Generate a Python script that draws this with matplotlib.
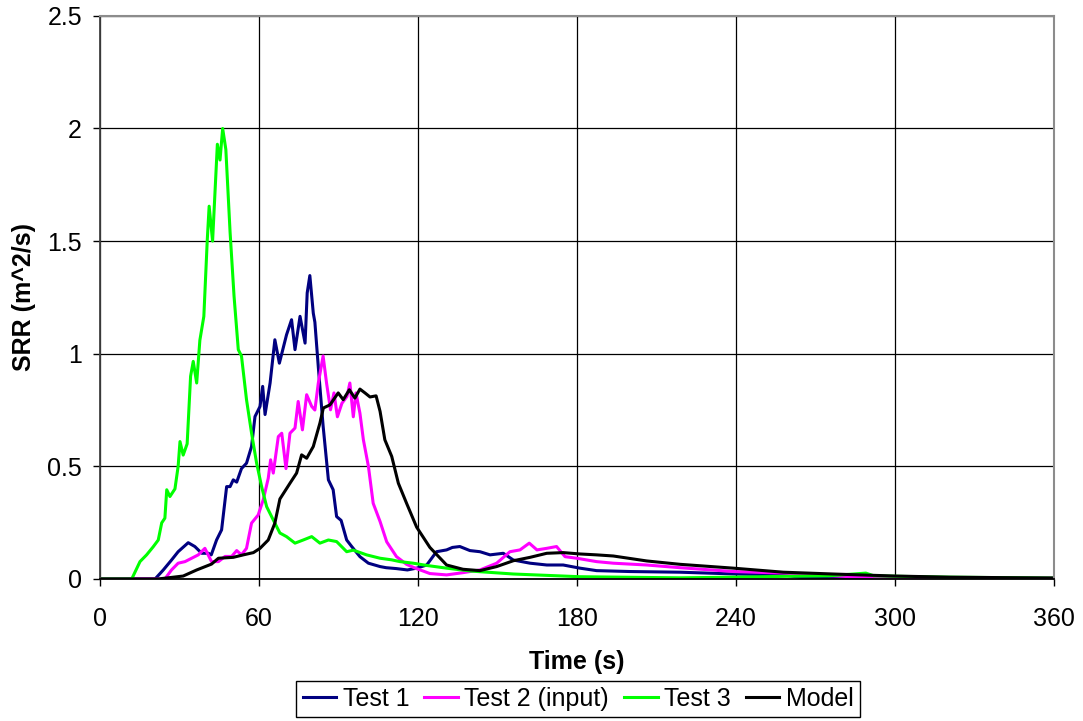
# SRR curves for the three tests and the model
import matplotlib.pyplot as plt

plt.rcParams['font.family'] = ['Liberation Sans', 'DejaVu Sans']
plt.rcParams['font.size'] = 18

# Test 1
t1 = [0, 20.8, 23.9, 27, 29.5, 33.3, 35.8, 38.4, 40.9, 42, 44, 45.9, 47.8, 49.1, 50.3, 51.6,
      53.4, 55.3, 57.2, 58.5, 60.4, 61.4, 62.3, 64.2, 66, 67.7, 70.4, 72.3, 73.6, 75.5, 77.4,
      78.2, 79.2, 80.5, 81.1, 82.4, 84.2, 86.2, 88, 89.3, 91, 93.1, 95, 98.1, 101.3, 105.7,
      108, 111.9, 116, 119.5, 123.3, 127, 130.8, 133, 135.8, 139.6, 143.4, 147.2, 152.2, 156,
      162.3, 168.6, 174.8, 181.1, 187.4, 200, 218.9, 240, 257.8, 265, 280, 300, 330, 360]
srr1 = [0, 0, 0.04, 0.084, 0.121, 0.161, 0.144, 0.114, 0.114, 0.107, 0.173, 0.218, 0.41, 0.41,
        0.44, 0.43, 0.49, 0.514, 0.588, 0.721, 0.766, 0.855, 0.73, 0.87, 1.062, 0.958, 1.084,
        1.151, 1.018, 1.166, 1.047, 1.27, 1.347, 1.18, 1.14, 0.94, 0.68, 0.44, 0.396, 0.277,
        0.26, 0.173, 0.144, 0.099, 0.07, 0.055, 0.05, 0.046, 0.04, 0.048, 0.062, 0.121, 0.129,
        0.14, 0.144, 0.126, 0.121, 0.107, 0.114, 0.084, 0.07, 0.062, 0.062, 0.048, 0.037,
        0.033, 0.03, 0.022, 0.018, 0.006, 0.004, 0.003, 0.003, 0.003]

# Test 2 (input)
t2 = [0, 24.5, 27, 29.5, 32.1, 34.6, 37.1, 39.6, 42.1, 44.7, 47.2, 49.7, 51.6, 53.4, 55.3,
      57.2, 59.7, 61.6, 63.5, 64.4, 65.4, 67.3, 68.6, 70.2, 71.7, 73.6, 74.8, 76.4, 78, 79.9,
      81.1, 82.4, 84.2, 85.5, 87, 88.3, 89.6, 91.3, 93.2, 94.3, 95.6, 96.6, 98.1, 99.4, 101.3,
      103.1, 105.7, 108.2, 111.9, 115.7, 119, 124.5, 130.8, 137, 143.4, 149.7, 154.7, 158.5,
      162, 164.9, 168.6, 172.3, 175.5, 179.9, 187.4, 193.7, 206.3, 218.9, 239, 257.9, 283,
      302, 330, 360]
srr2 = [0, 0, 0.04, 0.07, 0.077, 0.092, 0.107, 0.136, 0.077, 0.077, 0.10, 0.10, 0.126, 0.107,
        0.136, 0.248, 0.284, 0.351, 0.447, 0.529, 0.47, 0.632, 0.647, 0.49, 0.647, 0.67, 0.788,
        0.662, 0.818, 0.766, 0.75, 0.87, 0.99, 0.87, 0.751, 0.826, 0.72, 0.78, 0.81, 0.87,
        0.72, 0.826, 0.736, 0.618, 0.5, 0.336, 0.255, 0.165, 0.099, 0.065, 0.048, 0.024,
        0.018, 0.028, 0.04, 0.07, 0.121, 0.129, 0.159, 0.129, 0.136, 0.144, 0.099, 0.092,
        0.077, 0.07, 0.062, 0.05, 0.033, 0.026, 0.01, 0.004, 0.005, 0.004]

# Test 3
t3 = [0, 12, 15.1, 17.6, 20.1, 22, 23.3, 24.5, 25.2, 26.4, 28.3, 29.5, 30.2, 31.4, 32.9, 34.2,
      35.2, 36.5, 37.7, 39.2, 40.5, 41.2, 42.5, 44.3, 45.3, 46.3, 47.5, 49.1, 50.6, 52.2,
      53.4, 55.3, 57.2, 59.1, 61, 62.9, 65.4, 67.9, 70.4, 73.6, 76.7, 79.9, 83, 86.2, 89.3,
      93.1, 95.6, 100.6, 105.7, 110, 113.2, 118.2, 123.3, 130.8, 140, 156, 181, 219, 240,
      260, 275, 289, 292, 300, 320, 340, 360]
srr3 = [0, 0, 0.077, 0.107, 0.143, 0.173, 0.249, 0.27, 0.396, 0.366, 0.40, 0.50, 0.61, 0.55,
        0.60, 0.90, 0.966, 0.87, 1.06, 1.166, 1.507, 1.655, 1.50, 1.93, 1.86, 2.0, 1.907,
        1.54, 1.255, 1.018, 0.99, 0.796, 0.648, 0.515, 0.41, 0.321, 0.262, 0.204, 0.188,
        0.159, 0.173, 0.188, 0.159, 0.173, 0.166, 0.121, 0.128, 0.107, 0.092, 0.085, 0.077,
        0.07, 0.06, 0.048, 0.035, 0.022, 0.01, 0.005, 0.008, 0.012, 0.014, 0.026, 0.014,
        0.012, 0.008, 0.006, 0.004]

# Model
tm = [0, 22, 31.4, 36.5, 42.1, 44.7, 50.3, 54.1, 57.9, 60.4, 63.5, 66, 67.9, 71.7, 74.2,
      76.1, 78, 80.5, 83, 84.3, 86.8, 89.9, 91.8, 94.1, 96.2, 98.1, 100, 101.9, 104.2, 105.7,
      107.5, 110.1, 112.6, 115.7, 119.5, 124.5, 130.8, 137, 143.4, 149.7, 156, 162.3, 168.6,
      174.8, 181.1, 187.4, 193.7, 206.3, 218.9, 239, 257.9, 276.7, 300, 320.8, 340, 360]
srrm = [0, 0, 0.013, 0.04, 0.066, 0.092, 0.096, 0.107, 0.117, 0.136, 0.173, 0.248, 0.355,
        0.425, 0.47, 0.551, 0.536, 0.588, 0.692, 0.759, 0.773, 0.826, 0.796, 0.84, 0.803,
        0.843, 0.826, 0.808, 0.813, 0.744, 0.618, 0.544, 0.425, 0.336, 0.23, 0.14, 0.062,
        0.043, 0.037, 0.055, 0.081, 0.096, 0.114, 0.117, 0.111, 0.107, 0.102, 0.08, 0.065,
        0.048, 0.03, 0.022, 0.013, 0.008, 0.006, 0.004]

x_ticks = [0, 60, 120, 180, 240, 300, 360]
y_ticks = [0, 0.5, 1, 1.5, 2, 2.5]
y_labels = ['0', '0.5', '1', '1.5', '2', '2.5']

fig = plt.figure(figsize=(10.83, 7.21), dpi=100)
ax = fig.add_subplot(111)
fig.subplots_adjust(left=0.0923, right=0.9732, bottom=0.197, top=0.978)

lw = 2.2
ax.plot(t1, srr1, color='#000080', lw=lw, label='Test 1')
ax.plot(t2, srr2, color='#FF00FF', lw=lw, label='Test 2 (input)')
ax.plot(t3, srr3, color='#00FF00', lw=lw, label='Test 3')
ax.plot(tm, srrm, color='black', lw=lw, label='Model')

ax.set_xlim(0, 360)
ax.set_ylim(0, 2.5)
ax.set_xticks(x_ticks)
ax.set_yticks(y_ticks)
ax.set_yticklabels(y_labels)
ax.grid(True, color='black', lw=0.9)
ax.set_axisbelow(True)
ax.tick_params(direction='out', length=5, width=1, pad=8, color='black')
ax.tick_params(axis='x', pad=15)

for side in ['top', 'right']:
    ax.spines[side].set_color('#8c8c8c')
    ax.spines[side].set_linewidth(1.5)
ax.spines['left'].set_color('#404040')
ax.spines['left'].set_linewidth(1.3)
ax.spines['bottom'].set_color('black')
ax.spines['bottom'].set_linewidth(1.3)

ax.set_xlabel('Time (s)', fontweight='bold', labelpad=14)
ax.set_ylabel('SRR (m^2/s)', fontweight='bold', labelpad=8)

leg = fig.legend(loc='lower center', bbox_to_anchor=(0.5337, 0.005), ncol=4,
                 frameon=True, fancybox=False, framealpha=1, edgecolor='black',
                 handlelength=1.35, handletextpad=0.25, columnspacing=0.6,
                 borderpad=0.25, borderaxespad=0)
leg.get_frame().set_linewidth(1.0)

fig.savefig('out.png', dpi=100)
